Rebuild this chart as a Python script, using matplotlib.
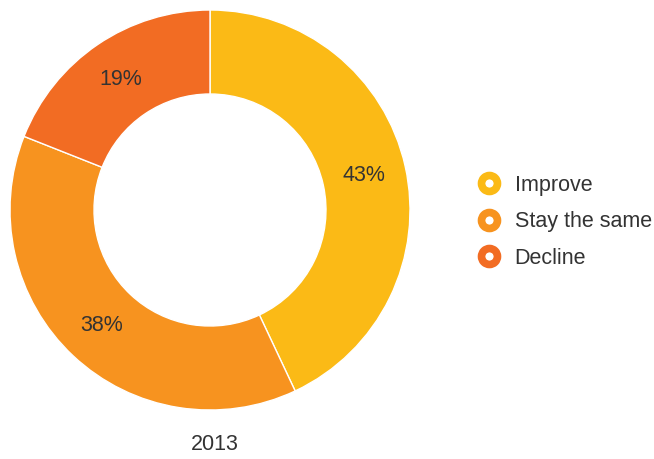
import matplotlib.pyplot as plt
from matplotlib.lines import Line2D

plt.rcParams['font.family'] = ['Liberation Sans', 'DejaVu Sans']

labels = ['Improve', 'Stay the same', 'Decline']
values = [43, 38, 19]
colors = ['#FBBA16', '#F7931F', '#F26C23']
year = '2013'

W, H = 654, 459
fig = plt.figure(figsize=(W / 100, H / 100), dpi=100)

# pie centre ~ (210, 210) px, outer radius ~200 px
cx, cy, r = 210, 210, 200
ax = fig.add_axes([(cx - r) / W, (H - cy - r) / H, 2 * r / W, 2 * r / H])

wedges, texts, autotexts = ax.pie(
    values, colors=colors, startangle=90, counterclock=False,
    radius=1, autopct='%d%%', pctdistance=0.79,
    wedgeprops=dict(width=0.42, edgecolor='white', linewidth=1),
    textprops=dict(fontsize=15.5, color='#333333'))
ax.set_xlim(-1, 1)
ax.set_ylim(-1, 1)
ax.set_aspect('equal')
ax.axis('off')

fig.text(215 / W, 1 - 444 / H, year, ha='center', va='center',
         fontsize=15.5, color='#333333')

handles = [Line2D([], [], linestyle='none', marker='o', markersize=11.5,
                  markerfacecolor='white', markeredgecolor=c,
                  markeredgewidth=5.5) for c in colors]
fig.legend(handles, labels, loc='center left',
           bbox_to_anchor=(465 / W, 1 - 222 / H), frameon=False,
           fontsize=15.5, labelcolor='#333333', handlelength=1.2,
           handletextpad=0.6, labelspacing=0.72, borderpad=0)

fig.savefig('out.png', dpi=100)
